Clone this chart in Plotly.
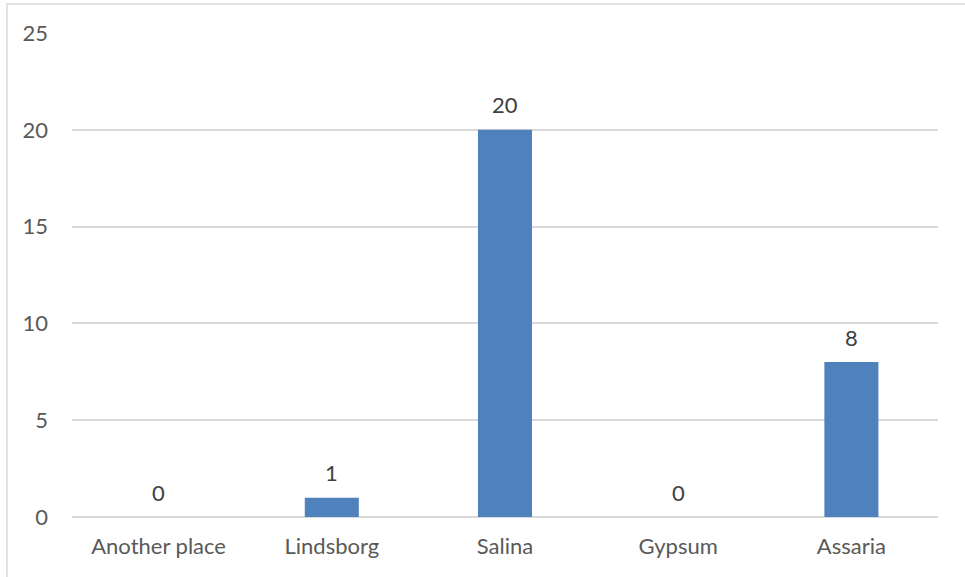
import plotly.graph_objects as go

categories = ["Another place", "Lindsborg", "Salina", "Gypsum", "Assaria"]
values = [0, 1, 20, 0, 8]
y_ticks = [0, 5, 10, 15, 20, 25]

W, H = 965, 577
L, R, T, B = 72, 27, 33, 60
pw, ph = W - L - R, H - T - B

FONT = "Lato"
TXT = "#595959"
FS = 22

fig = go.Figure(go.Bar(
    x=categories, y=values,
    marker=dict(color="#4F81BD", line=dict(width=0)),
    cliponaxis=False,
))

annotations = [
    dict(x=c, y=v, xref="x", yref="y", text=str(v), showarrow=False,
         yanchor="middle", yshift=25, font=dict(family=FONT, size=FS, color="#404040"))
    for c, v in zip(categories, values)
]

fig.update_layout(
    width=W, height=H,
    margin=dict(l=L, r=R, t=T, b=B),
    paper_bgcolor="white", plot_bgcolor="white",
    bargap=0.688,
    showlegend=False,
    font=dict(family=FONT, size=FS, color=TXT),
    annotations=annotations,
    xaxis=dict(showgrid=False, showline=False, ticks="", ticklabelstandoff=14,
               tickfont=dict(size=FS, color=TXT)),
    yaxis=dict(range=[0, 25], tickvals=y_ticks, showgrid=True, gridcolor="#D9D9D9", gridwidth=1.5,
               zeroline=True, zerolinecolor="#D9D9D9", zerolinewidth=1.5,
               showline=False, ticks="", ticklabelstandoff=23,
               tickfont=dict(size=FS, color=TXT)),
    shapes=[dict(type="rect", xref="paper", yref="paper",
                 x0=(7 - L) / pw, x1=1.2, y0=-0.3, y1=(H - B - 4) / ph,
                 line=dict(color="#D9D9D9", width=1.5), fillcolor="rgba(0,0,0,0)", layer="below")],
)

fig.write_html("out.html", config={"displayModeBar": False},
               post_script="document.body.style.margin='0';")
